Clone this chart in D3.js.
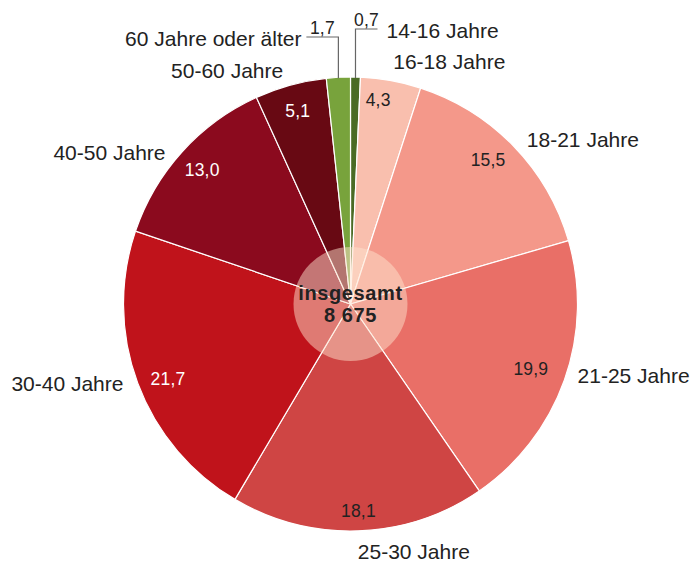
<!DOCTYPE html>
<html>
<head>
<meta charset="utf-8">
<script src="https://cdn.jsdelivr.net/npm/d3@7"></script>
<style>
  body { margin: 0; background: #fff; }
  svg { display: block; font-family: "Liberation Sans", Arial, sans-serif; }
</style>
</head>
<body>
<div id="chart"></div>
<script>
// Altersgruppen, Anteile in %
const categories = ["14-16 Jahre", "16-18 Jahre", "18-21 Jahre", "21-25 Jahre", "25-30 Jahre",
                    "30-40 Jahre", "40-50 Jahre", "50-60 Jahre", "60 Jahre oder älter"];
const shares = [0.7, 4.3, 15.5, 19.9, 18.1, 21.7, 13.0, 5.1, 1.7];
const shareLabels = ["0,7", "4,3", "15,5", "19,9", "18,1", "21,7", "13,0", "5,1", "1,7"];
const totalLabel = ["insgesamt", "8 675"];

const colors = ["#4a6b25", "#f9bfae", "#f4988a", "#e96f67", "#cf4544",
                "#c0131b", "#8b0a1e", "#680913", "#78a33c"];
const textColors = ["#222", "#222", "#222", "#222", "#222", "#fff", "#fff", "#fff", "#222"];

const width = 693, height = 563;
const cx = 350.5, cy = 304, r = 227;
const innerCircleR = 57;
const valueR = 200, labelR = 240;
const catFont = { size: 21, spacing: 0 };
const valFont = { size: 17.5, spacing: 0.2 };

// small slices get a leader line instead of an inner label
const leaders = {
    "14-16 Jahre": { rise: 275, run: 22 },
    "60 Jahre oder älter": { rise: 267, run: -32 }
};
// hand placement tweaks, as in the printed original
const labelNudge = {
    "16-18 Jahre": [0, -6], "18-21 Jahre": [4, 3], "21-25 Jahre": [1, -9],
    "25-30 Jahre": [-1, 8], "30-40 Jahre": [-2, -4], "40-50 Jahre": [-7, 10],
    "50-60 Jahre": [-4, -2]
};
const valueNudge = {
    "16-18 Jahre": [-8, -7], "18-21 Jahre": [-6, -5], "21-25 Jahre": [-8, -2],
    "25-30 Jahre": [1, 7], "30-40 Jahre": [5, 5]
};

const svg = d3.select('#chart')
    .append('svg')
    .attr('width', width)
    .attr('height', height);

const g = svg.append('g')
    .attr('transform', `translate(${cx},${cy})`);

const data = categories.map((c, i) => ({ name: c, value: shares[i], label: shareLabels[i], i: i }));

const pie = d3.pie()
    .sort(null)
    .value(d => d.value);

const arcs = pie(data);

const arc = d3.arc()
    .innerRadius(0)
    .outerRadius(r);

g.selectAll('path.slice')
    .data(arcs)
    .join('path')
    .attr('class', 'slice')
    .attr('d', arc)
    .attr('fill', d => colors[d.data.i])
    .attr('stroke', '#fff')
    .attr('stroke-width', 1.2);

// central overlay
g.append('circle')
    .attr('r', innerCircleR)
    .attr('fill', '#fde2cc')
    .attr('fill-opacity', 0.5);

const mid = d => (d.startAngle + d.endAngle) / 2;
const nudge = (map, d, k) => (map[d.data.name] || [0, 0])[k];

const normal = arcs.filter(d => !(d.data.name in leaders));

// values inside slices
g.selectAll('text.value')
    .data(normal)
    .join('text')
    .attr('class', 'value')
    .attr('x', d => valueR * Math.sin(mid(d)) + nudge(valueNudge, d, 0))
    .attr('y', d => -valueR * Math.cos(mid(d)) + nudge(valueNudge, d, 1))
    .attr('dy', '0.35em')
    .attr('text-anchor', 'middle')
    .attr('font-size', valFont.size)
    .attr('letter-spacing', valFont.spacing)
    .attr('fill', d => textColors[d.data.i])
    .text(d => d.data.label);

// category labels outside
g.selectAll('text.cat')
    .data(normal)
    .join('text')
    .attr('class', 'cat')
    .attr('x', d => labelR * Math.sin(mid(d)) + nudge(labelNudge, d, 0))
    .attr('y', d => -labelR * Math.cos(mid(d)) + nudge(labelNudge, d, 1))
    .attr('dy', '0.35em')
    .attr('text-anchor', d => mid(d) < Math.PI ? 'start' : 'end')
    .attr('font-size', catFont.size)
    .attr('letter-spacing', catFont.spacing)
    .attr('fill', '#222')
    .text(d => d.data.name);

// leader lines for the tiny slices
arcs.filter(d => d.data.name in leaders).forEach(d => {
    const L = leaders[d.data.name];
    const x0 = r * Math.sin(mid(d));
    const y0 = -r * Math.cos(mid(d)) + 1;
    const yTop = -L.rise;
    const x1 = x0 + L.run;
    g.append('path')
        .attr('d', d3.line()([[x0, y0], [x0, yTop], [x1, yTop]]))
        .attr('fill', 'none')
        .attr('stroke', '#666')
        .attr('stroke-width', 1.2);
    g.append('text')
        .attr('x', (x0 + x1) / 2)
        .attr('y', yTop - 3)
        .attr('text-anchor', 'middle')
        .attr('font-size', valFont.size)
        .attr('letter-spacing', valFont.spacing)
        .attr('fill', '#222')
        .text(d.data.label);
    const right = L.run > 0;
    g.append('text')
        .attr('x', x1 + (right ? 9 : -5))
        .attr('y', yTop + 2)
        .attr('dy', '0.35em')
        .attr('text-anchor', right ? 'start' : 'end')
        .attr('font-size', catFont.size)
        .attr('letter-spacing', catFont.spacing)
        .attr('fill', '#222')
        .text(d.data.name);
});

// total in the middle
g.selectAll('text.total')
    .data(totalLabel)
    .join('text')
    .attr('class', 'total')
    .attr('x', 0)
    .attr('y', (d, i) => -4 + i * 22)
    .attr('text-anchor', 'middle')
    .attr('font-size', 20)
    .attr('font-weight', 'bold')
    .attr('letter-spacing', 0.6)
    .attr('fill', '#222')
    .text(d => d);
</script>
</body>
</html>
